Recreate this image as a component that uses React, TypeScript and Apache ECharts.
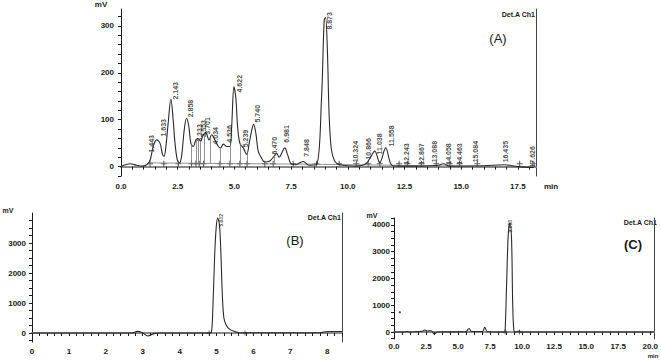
import React, { useEffect, useRef } from "react";
import * as echarts from "echarts";

// ---------- Panel A (extract chromatogram) ----------
const aTime = [0, 0.4, 0.69, 0.91, 1.13, 1.28, 1.42, 1.57, 1.72, 1.83, 1.9, 1.98, 2.08, 2.2, 2.3, 2.38, 2.48, 2.57, 2.67, 2.79, 2.89, 2.99, 3.08, 3.19, 3.3, 3.38, 3.51, 3.63, 3.74, 3.88, 4.0, 4.14, 4.29, 4.39, 4.51, 4.66, 4.8, 4.88, 4.98, 5.07, 5.14, 5.24, 5.39, 5.54, 5.68, 5.85, 5.95, 6.05, 6.2, 6.34, 6.56, 6.75, 6.86, 6.98, 7.1, 7.22, 7.35, 7.5, 7.7, 8.03, 8.3, 8.62, 8.84, 8.96, 9.02, 9.1, 9.18, 9.28, 9.43, 9.65, 10.0, 10.4, 10.8, 11.0, 11.19, 11.41, 11.67, 11.92, 12.2, 13.0, 14.0, 14.2, 14.5, 16.0, 16.9, 17.5, 18.2];
const aMv = [0, 6, 3, 1, 4, 13, 43, 57, 50, 26, 22, 43, 93, 144, 100, 51, 15, 8, 22, 79, 103, 86, 50, 43, 57, 60, 55, 68, 72, 57, 68, 57, 43, 40, 48, 43, 43, 86, 170, 143, 86, 50, 40, 26, 57, 90, 70, 33, 18, 10, 12, 22, 28, 20, 30, 40, 25, 6, 4, 11, 3, 4, 143, 313, 318, 249, 107, 36, 11, 4, 2, 1, 6, 20, 33, 8, 40, 4, 1, 1, 3, 6, 1, 2, 4, 0, -2];

const aPeakNames = ["1.443", "1.633", "2.143", "2.858", "3.333", "3.553", "3.701", "4.034", "4.536", "4.622", "5.239", "5.740", "6.470", "6.981", "7.848", "8.873", "10.324", "10.866", "11.038", "11.558", "12.243", "12.867", "13.088", "14.058", "14.463", "15.084", "16.435", "17.626"];
const aPeakTime = [1.35, 1.89, 2.42, 3.07, 3.48, 3.66, 3.85, 4.18, 4.8, 5.24, 5.53, 6.05, 6.78, 7.33, 8.18, 9.2, 10.35, 10.94, 11.41, 11.95, 12.63, 13.27, 13.83, 14.45, 14.93, 15.67, 16.96, 18.16];
const aPeakLabelMv = [29, 63, 142, 104, 52, 61, 67, 46, 50, 157, 40, 93, 25, 50, 20, 291, 8, 14, 25, 42, 3, 3, 8, 3, 3, 8, 8, -3];

const aMarkTime = [1.28, 1.89, 2.53, 3.11, 3.3, 3.45, 3.64, 4.36, 4.8, 5.24, 5.56, 6.34, 6.71, 7.59, 8.62, 9.62, 10.38, 10.9, 11.41, 12.26, 12.63, 13.25, 13.9, 14.5, 14.93, 15.71, 17.58, 18.16];
const aBaseTime = [1.25, 8.62, 18.2];
const aBaseMv = [8, 5, -1];
const aDropTime = [3.11, 3.3, 3.4, 3.51, 3.66, 3.92, 4.36, 4.8, 5.24, 5.58, 6.31, 6.75];
const aDropTop = [50, 57, 60, 55, 70, 60, 41, 43, 50, 30, 10, 22];

const aXLabels = [0, 2.5, 5, 7.5, 10, 12.5, 15, 17.5];
const aYLabels = [0, 100, 200, 300];

// ---------- Panel B (standard 1) ----------
const bTime = [0, 2.7, 2.86, 2.98, 3.14, 3.3, 3.45, 4.8, 4.86, 4.9, 4.95, 4.99, 5.03, 5.08, 5.12, 5.16, 5.2, 5.26, 5.35, 5.49, 5.6, 7.8, 8.0, 8.4];
const bMv = [0, 0, 55, 20, -100, -20, 0, 0, 20, 800, 2600, 3500, 3830, 3600, 2600, 1200, 500, 270, 130, 50, 10, 10, 50, 50];
const bPeakNames = ["5.032"];
const bPeakTime = [5.14];
const bPeakLabelMv = [3530];
const bMarkTime = [4.8, 5.77];
const bXLabels = [0, 1, 2, 3, 4, 5, 6, 7, 8];
const bYLabels = [0, 1000, 2000, 3000];

// ---------- Panel C (standard 2) ----------
const cTime = [0, 0.9, 1.0, 1.2, 2.2, 2.4, 2.6, 2.9, 3.15, 3.4, 5.6, 5.85, 6.05, 6.9, 7.08, 7.3, 8.6, 8.67, 8.79, 8.92, 9.05, 9.18, 9.26, 9.36, 9.5, 9.8, 9.9, 20.3];
const cMv = [0, 0, 25, 0, 30, 75, 40, 50, -75, 0, 10, 135, 20, 20, 175, 10, 0, 20, 1800, 3650, 4080, 3400, 1190, 50, 0, 40, 0, 0];
const cPeakNames = ["9.053"];
const cPeakTime = [9.13];
const cPeakLabelMv = [3700];
const cMarkTime = [8.67, 9.8];
const cXLabels = [0, 2.5, 5, 7.5, 10, 12.5, 15, 17.5, 20];
const cYLabels = [0, 1000, 2000, 3000, 4000];

const zip = (xs: number[], ys: number[]) => xs.map((x, i) => [x, ys[i]]);
const steps = (a: number, b: number, s: number) => {
  const r: number[] = [];
  for (let v = a; v <= b + 1e-9; v += s) r.push(Math.round(v * 1000) / 1000);
  return r;
};

const FONT = "Liberation Sans";
const INK = "#1a1a1a";
const PLUS = "path://M-0.18,-1H0.18V-0.18H1V0.18H0.18V1H-0.18V0.18H-1V-0.18H-0.18Z";

function bottomAxis(grid: number, max: number, labels: number[], ticks: number[], fmt: (v: number) => string, margin: number) {
  return {
    type: "value", gridIndex: grid, min: 0, max, position: "bottom",
    splitLine: { show: false },
    axisLine: { show: true, lineStyle: { color: INK, width: 1 } },
    axisTick: { show: true, length: 3, customValues: ticks, lineStyle: { color: INK } },
    axisLabel: { show: true, customValues: labels, formatter: (v: number) => fmt(v), fontSize: 8, fontWeight: "bold", color: INK, fontFamily: FONT, margin },
  };
}
function topAxis(grid: number, max: number) {
  return {
    type: "value", gridIndex: grid, min: 0, max, position: "top",
    splitLine: { show: false }, axisTick: { show: false }, axisLabel: { show: false },
    axisLine: { show: true, lineStyle: { color: "#8a8a8a", width: 2 } },
  };
}
function leftAxis(grid: number, min: number, max: number, labels: number[], ticks: number[], margin: number) {
  return {
    type: "value", gridIndex: grid, min, max, position: "left",
    splitLine: { show: false },
    axisLine: { show: true, onZero: false, lineStyle: { color: INK, width: 1 } },
    axisTick: { show: true, length: 3, customValues: ticks, lineStyle: { color: INK } },
    axisLabel: { show: true, customValues: labels, formatter: (v: number) => String(v), fontSize: 8, fontWeight: "bold", color: INK, fontFamily: FONT, margin },
  };
}
function rightAxis(grid: number, min: number, max: number) {
  return {
    type: "value", gridIndex: grid, min, max, position: "right",
    splitLine: { show: false }, axisTick: { show: false }, axisLabel: { show: false },
    axisLine: { show: true, onZero: false, lineStyle: { color: "#444", width: 1 } },
  };
}
function curve(idx: number, data: number[][]) {
  return {
    type: "line", xAxisIndex: idx, yAxisIndex: idx, data, smooth: 0.35,
    showSymbol: false, symbol: "none", silent: true,
    lineStyle: { color: "#2a2a2a", width: 1.1 },
  };
}
function peakLabels(idx: number, names: string[], ts: number[], vs: number[], size: number) {
  return {
    type: "scatter", xAxisIndex: idx, yAxisIndex: idx, symbolSize: 1, silent: true,
    itemStyle: { color: "rgba(0,0,0,0)" },
    data: names.map((n, i) => ({ name: n, value: [ts[i], vs[i]] })),
    label: {
      show: true, formatter: "{b}", rotate: 90, position: [0, 0], align: "left", verticalAlign: "middle",
      fontSize: size, fontWeight: "bold", color: INK, fontFamily: FONT,
    },
  };
}
function marks(idx: number, ts: number[], v: number, size: number) {
  return {
    type: "scatter", xAxisIndex: idx, yAxisIndex: idx, symbol: PLUS, symbolSize: size, silent: true,
    itemStyle: { color: "#333" }, data: ts.map((t) => [t, v]),
  };
}
function txt(x: number, y: number, text: string, size: number, align: string, weight = "bold") {
  return {
    type: "text", x, y, silent: true,
    style: { text, fontSize: size, fontWeight: weight, fontFamily: FONT, fill: INK, align, verticalAlign: "middle", textAlign: align, textVerticalAlign: "middle" },
  };
}

export default function App() {
  const ref = useRef<HTMLDivElement>(null);
  useEffect(() => {
    if (!ref.current) return;
    const chart = echarts.init(ref.current, null, { renderer: "svg" });
    const aMax = 18.3, bMax = 8.4, cMax = 20.3;
    const option = {
      animation: false,
      backgroundColor: "#ffffff",
      grid: [
        { left: 121, top: 9, width: 415, height: 167 },
        { left: 32, top: 213, width: 310, height: 129 },
        { left: 394, top: 218, width: 264, height: 121 },
      ],
      xAxis: [
        bottomAxis(0, aMax, aXLabels, steps(0, 18, 0.5), (v) => v.toFixed(1), 6),
        bottomAxis(1, bMax, bXLabels, steps(0, 8.4, 0.2), (v) => String(Math.round(v)), 5),
        bottomAxis(2, cMax, cXLabels, steps(0, 20, 0.625), (v) => v.toFixed(1), 3),
        topAxis(0, aMax), topAxis(1, bMax), topAxis(2, cMax),
      ],
      yAxis: [
        leftAxis(0, -20, 336, aYLabels, steps(-20, 320, 20), 7),
        leftAxis(1, -300, 4000, bYLabels, steps(-250, 3750, 250), 6),
        leftAxis(2, -260, 4260, cYLabels, steps(-250, 4250, 250), 4),
        rightAxis(0, -20, 336), rightAxis(1, -300, 4000), rightAxis(2, -260, 4260),
      ],
      series: [
        {
          type: "line", xAxisIndex: 0, yAxisIndex: 0, data: zip(aBaseTime, aBaseMv), symbol: "none", silent: true,
          lineStyle: { color: "#777", width: 0.8 },
          markLine: {
            silent: true, symbol: "none", label: { show: false },
            lineStyle: { color: "#777", width: 0.8, type: "solid" },
            data: aDropTime.map((t, i) => [{ coord: [t, 7] }, { coord: [t, aDropTop[i]] }]),
          },
        },
        curve(0, zip(aTime, aMv)),
        marks(0, aMarkTime, 6, 6),
        peakLabels(0, aPeakNames, aPeakTime, aPeakLabelMv, 7),
        curve(1, zip(bTime, bMv)),
        marks(1, bMarkTime, 0, 5),
        peakLabels(1, bPeakNames, bPeakTime, bPeakLabelMv, 5),
        curve(2, zip(cTime, cMv)),
        marks(2, cMarkTime, 0, 5),
        peakLabels(2, cPeakNames, cPeakTime, cPeakLabelMv, 5),
        {
          type: "scatter", xAxisIndex: 2, yAxisIndex: 2, symbolSize: 2.5, silent: true,
          itemStyle: { color: "#333" }, data: [[0.45, 740]],
        },
      ],
      graphic: [
        txt(101, 4, "mV", 8, "center"),
        txt(551, 186, "min", 8, "center"),
        txt(535, 14, "Det.A Ch1", 7, "right"),
        txt(498, 38, "(A)", 13, "center", "normal"),
        txt(8, 210, "mV", 7, "center"),
        txt(341, 217, "Det.A Ch1", 7, "right"),
        txt(295, 240, "(B)", 13, "center", "normal"),
        txt(372, 215, "mV", 7, "center"),
        txt(653, 356, "min", 6, "center"),
        txt(657, 222, "Det.A Ch1", 7, "right"),
        txt(633, 244, "(C)", 13, "center"),
      ],
    };
    chart.setOption(option as any);
    return () => chart.dispose();
  }, []);
  return <div ref={ref} style={{ position: "fixed", left: 0, top: 0, width: 661, height: 360, background: "#fff" }} />;
}
